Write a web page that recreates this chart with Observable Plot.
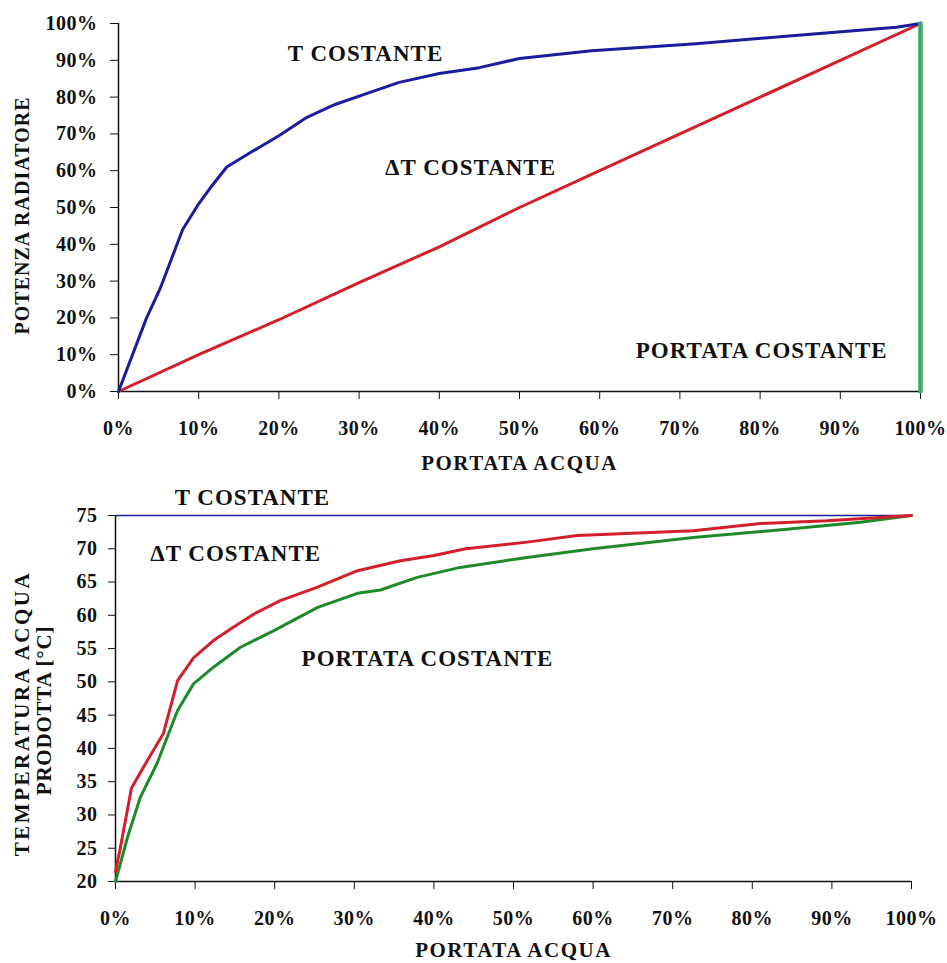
<!DOCTYPE html>
<html><head><meta charset="utf-8">
<script src="https://cdn.jsdelivr.net/npm/d3@7"></script>
<script src="https://cdn.jsdelivr.net/npm/@observablehq/plot@0.6"></script>
<style>
body{margin:0;background:#fff;}
#top,#bottom{width:947px;}
</style></head><body><div id="top"></div><div id="bottom"></div>
<script>
// ---------- DATA ----------
// Top chart: POTENZA RADIATORE (%) vs PORTATA ACQUA (%)
const topTCostX = [0, 3.5, 5.2, 8, 10, 11.5, 13.5, 16.5, 20, 23.5, 27, 31, 35, 40, 45, 50, 59, 72, 84, 97, 100];
const topTCostY = [0, 20, 28, 44, 51, 55.5, 61, 65, 69.5, 74.5, 78, 81, 84, 86.4, 88, 90.5, 92.6, 94.5, 96.7, 99, 100];
const topDTCostX = [0, 10, 20, 30, 40, 50, 60, 70, 80, 90, 100];
const topDTCostY = [0, 10, 19.5, 29.6, 39.3, 50, 60, 70, 80, 90, 100];
const topPortCostX = [100, 100];
const topPortCostY = [0, 100];

// Bottom chart: TEMPERATURA ACQUA PRODOTTA (°C) vs PORTATA ACQUA (%)
const botTCostX = [0, 100];
const botTCostY = [75, 75];
const botDTCostX = [0, 0.6, 2, 4, 6, 7.8, 9.8, 12.3, 14.8, 17.4, 20.7, 25.3, 30.4, 35.8, 40, 44, 51.7, 58, 72.6, 81, 89.4, 100];
const botDTCostY = [21.5, 25, 34, 38.2, 42.2, 50.2, 53.6, 56.2, 58.2, 60.2, 62.2, 64.2, 66.7, 68.2, 69, 70, 71, 72, 72.7, 73.8, 74.2, 75];
const botPortCostX = [0, 1.5, 3.1, 5.2, 7.8, 9.8, 12.3, 15.7, 19.9, 25.4, 30.4, 33.3, 37.9, 43.3, 51.7, 60, 72.6, 85, 93.6, 100];
const botPortCostY = [20, 26.6, 32.6, 37.7, 45.7, 49.7, 52.2, 55.2, 57.7, 61.2, 63.3, 63.8, 65.7, 67.2, 68.7, 70, 71.7, 73, 74, 75];

const xTicks = [0, 10, 20, 30, 40, 50, 60, 70, 80, 90, 100];
const topYTicks = [0, 10, 20, 30, 40, 50, 60, 70, 80, 90, 100];
const botYTicks = [20, 25, 30, 35, 40, 45, 50, 55, 60, 65, 70, 75];

const labelTop = ["T COSTANTE", "\u0394T COSTANTE", "PORTATA COSTANTE"];
const labelTopX = [30.8, 43.9, 80.2];
const labelTopY = [91.8, 60.9, 11.1];
const labelBot = ["T COSTANTE", "\u0394T COSTANTE", "PORTATA COSTANTE"];
const labelBotX = [17.2, 15.1, 39.2];
const labelBotY = [77.7, 69.3, 53.5];

// ---------- helpers ----------
const zip = (xs, ys) => xs.map((x, i) => ({x, y: ys[i]}));
const lbl = (ts, xs, ys) => ts.map((t, i) => ({t, x: xs[i], y: ys[i]}));
const pct = d => d + "%";
const FONT = '"Liberation Serif", "Times New Roman", serif';
const BLUE = "#1c1c9c", RED = "#d21f2b", GREEN_T = "#3aa866", GREEN_B = "#1f8a2a";

function spacing(svg, map) {
  d3.select(svg).selectAll("text").each(function() {
    const s = this.textContent;
    if (map[s] !== undefined) this.style.letterSpacing = map[s] + "px";
  });
  d3.select(svg).selectAll("g[aria-label$='tick label'] text").style("letter-spacing", "0.5px");
}

// ---------- TOP ----------
const topChart = Plot.plot({
  width: 947, height: 480,
  marginLeft: 118, marginRight: 27, marginTop: 23, marginBottom: 89,
  style: {fontFamily: FONT, fontWeight: "bold", background: "white", color: "#111"},
  x: {domain: [0, 100]},
  y: {domain: [0, 100]},
  marks: [
    Plot.axisX({ticks: xTicks, tickFormat: pct, tickSize: 8, tickPadding: 21, fontSize: 20, label: null}),
    Plot.axisY({ticks: topYTicks, tickFormat: pct, tickSize: 8, tickPadding: 13, fontSize: 20, label: null}),
    Plot.ruleX([0], {stroke: "#111", strokeWidth: 1.5}),
    Plot.ruleY([0], {stroke: "#111", strokeWidth: 1.5}),
    Plot.line(zip(topDTCostX, topDTCostY), {x: "x", y: "y", stroke: RED, strokeWidth: 3}),
    Plot.line(zip(topTCostX, topTCostY), {x: "x", y: "y", stroke: BLUE, strokeWidth: 3}),
    Plot.line(zip(topPortCostX, topPortCostY), {x: "x", y: "y", stroke: GREEN_T, strokeWidth: 4.5}),
    Plot.text(lbl(labelTop, labelTopX, labelTopY), {x: "x", y: "y", text: "t", fontSize: 23, fill: "#111"}),
    Plot.text(["PORTATA ACQUA"], {frameAnchor: "bottom", dy: 72, text: d => d, fontSize: 21, lineAnchor: "middle", fill: "#111"}),
    Plot.text(["POTENZA RADIATORE"], {frameAnchor: "left", dx: -96, dy: 8, rotate: -90, text: d => d, fontSize: 20, textAnchor: "middle", lineAnchor: "middle", fill: "#111"})
  ]
});
spacing(topChart, {"T COSTANTE": 1, "\u0394T COSTANTE": 1, "PORTATA COSTANTE": 1, "PORTATA ACQUA": 1.5, "POTENZA RADIATORE": 1});
document.getElementById("top").appendChild(topChart);

// ---------- BOTTOM ----------
const botChart = Plot.plot({
  width: 947, height: 483,
  marginLeft: 115, marginRight: 36, marginTop: 35, marginBottom: 82,
  style: {fontFamily: FONT, fontWeight: "bold", background: "white", color: "#111"},
  x: {domain: [0, 100]},
  y: {domain: [20, 75]},
  marks: [
    Plot.axisX({ticks: xTicks, tickFormat: pct, tickSize: 8, tickPadding: 21, fontSize: 20, label: null}),
    Plot.axisY({ticks: botYTicks, tickSize: 7, tickPadding: 11, fontSize: 20, label: null}),
    Plot.ruleX([0], {stroke: "#111", strokeWidth: 1.5}),
    Plot.ruleY([20], {stroke: "#111", strokeWidth: 1.5}),
    Plot.line(zip(botTCostX, botTCostY), {x: "x", y: "y", stroke: BLUE, strokeWidth: 1.5}),
    Plot.line(zip(botPortCostX, botPortCostY), {x: "x", y: "y", stroke: GREEN_B, strokeWidth: 3}),
    Plot.line(zip(botDTCostX, botDTCostY), {x: "x", y: "y", stroke: RED, strokeWidth: 3}),
    Plot.text(lbl(labelBot, labelBotX, labelBotY), {x: "x", y: "y", text: "t", fontSize: 23, fill: "#111"}),
    Plot.text(["PORTATA ACQUA"], {frameAnchor: "bottom", dy: 69, text: d => d, fontSize: 21, lineAnchor: "middle", fill: "#111"}),
    Plot.text(["TEMPERATURA ACQUA"], {frameAnchor: "left", dx: -93, dy: 15, rotate: -90, text: d => d, fontSize: 21, textAnchor: "middle", lineAnchor: "middle", fill: "#111"}),
    Plot.text(["PRODOTTA [\u00B0C]"], {frameAnchor: "left", dx: -71, dy: 12, rotate: -90, text: d => d, fontSize: 21, textAnchor: "middle", lineAnchor: "middle", fill: "#111"})
  ]
});
spacing(botChart, {"T COSTANTE": 1, "\u0394T COSTANTE": 1, "PORTATA COSTANTE": 1, "PORTATA ACQUA": 1.5, "TEMPERATURA ACQUA": 2.5, "PRODOTTA [\u00B0C]": 0.8});
document.getElementById("bottom").appendChild(botChart);
</script>
</body></html>
